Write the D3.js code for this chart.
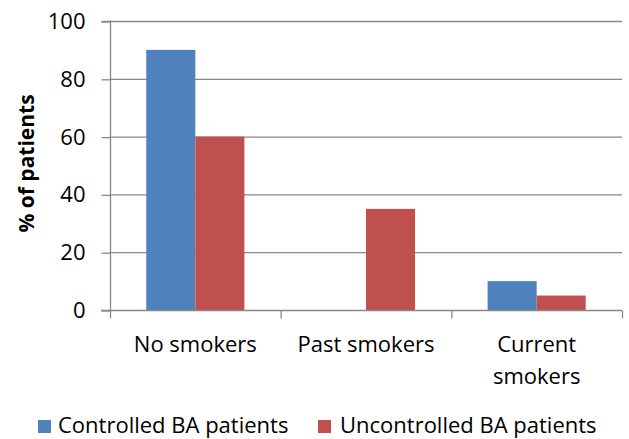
<!DOCTYPE html>
<html>
<head>
<meta charset="utf-8">
<script src="https://cdn.jsdelivr.net/npm/d3@7"></script>
<style>
  html, body { margin: 0; padding: 0; background: #fff; }
  svg { display: block; font-family: "Open Sans", "Noto Sans", sans-serif; }
</style>
</head>
<body>
<svg id="chart" width="629" height="439"></svg>
<script>
const categories = [["No smokers"], ["Past smokers"], ["Current", "smokers"]];
const seriesNames = ["Controlled BA patients", "Uncontrolled BA patients"];
const controlled = [90, 0, 10];
const uncontrolled = [60, 35, 5];
const yTicks = [0, 20, 40, 60, 80, 100];
const colors = ["#4F81BD", "#C0504D"];

const svg = d3.select("#chart");
const margin = { left: 110, right: 7, top: 21, bottom: 129 };
const W = 629, H = 439;
const x0 = margin.left, x1 = W - margin.right, yTop = margin.top, yBot = H - margin.bottom;

const catKeys = categories.map(c => c.join(" "));
const x = d3.scaleBand().domain(catKeys).range([x0, x1]).paddingInner(0).paddingOuter(0);
const inner = d3.scaleBand().domain([0, 1]).range([0, x.bandwidth()]).paddingInner(0).paddingOuter(0.74);
const y = d3.scaleLinear().domain([0, 100]).range([yBot, yTop]);

// gridlines
svg.append("g").selectAll("line").data(yTicks.filter(d => d > 0)).join("line")
  .attr("x1", x0).attr("x2", x1)
  .attr("y1", d => y(d) + 0.5).attr("y2", d => y(d) + 0.5)
  .attr("stroke", "#888").attr("stroke-width", 1.3);

// bars
const series = [controlled, uncontrolled];
series.forEach((vals, si) => {
  svg.append("g").selectAll("rect").data(vals).join("rect")
    .attr("x", (d, i) => x(catKeys[i]) + inner(si))
    .attr("width", inner.bandwidth())
    .attr("y", d => y(d))
    .attr("height", d => y(0) - y(d))
    .attr("fill", colors[si]);
});

// y axis
const yAxis = d3.axisLeft(y).tickValues(yTicks).tickSize(9).tickPadding(16);
const gy = svg.append("g").attr("transform", `translate(${x0 + 0.5},0.5)`).call(yAxis);
gy.select(".domain").attr("stroke", "#888").attr("stroke-width", 1.3).attr("d", `M-9,${yTop}H0V${yBot}`);
gy.selectAll(".tick line").attr("stroke", "#888").attr("stroke-width", 1.3);
gy.selectAll(".tick text").attr("font-size", 22).attr("fill", "#000")
  .attr("font-family", "'Open Sans', sans-serif");

// x axis
const gx = svg.append("g").attr("transform", `translate(0,${yBot + 0.5})`);
gx.append("line").attr("x1", x0 - 9).attr("x2", x1).attr("y1", 0).attr("y2", 0)
  .attr("stroke", "#888").attr("stroke-width", 1.3);
const bounds = catKeys.map(k => x(k)).concat([x1]);
gx.selectAll("line.tk").data(bounds).join("line").attr("class", "tk")
  .attr("x1", d => d + 0.5).attr("x2", d => d + 0.5).attr("y1", 0).attr("y2", 8)
  .attr("stroke", "#888").attr("stroke-width", 1.3);
gx.selectAll("text.cat").data(categories).join("text").attr("class", "cat")
  .attr("x", (d, i) => x(catKeys[i]) + x.bandwidth() / 2)
  .attr("y", 41)
  .attr("text-anchor", "middle").attr("font-size", 22).attr("fill", "#000")
  .each(function(d) {
    d3.select(this).selectAll("tspan").data(d).join("tspan")
      .attr("x", d3.select(this).attr("x"))
      .attr("dy", (t, j) => j === 0 ? 0 : 32)
      .text(t => t);
  });

// y title
svg.append("text")
  .attr("transform", `translate(34,${(yTop + yBot) / 2 - 2}) rotate(-90)`)
  .attr("text-anchor", "middle").attr("font-size", 21).attr("font-weight", "bold")
  .attr("fill", "#000").text("% of patients");

// legend
const legendItems = [{ x: 38, tx: 58 }, { x: 318, tx: 340 }];
const lg = svg.append("g");
seriesNames.forEach((name, i) => {
  lg.append("rect").attr("x", legendItems[i].x).attr("y", 420).attr("width", 13).attr("height", 13)
    .attr("fill", colors[i]);
  lg.append("text").attr("x", legendItems[i].tx).attr("y", 433)
    .attr("font-size", 22).attr("fill", "#000").text(name);
});
</script>
</body>
</html>
